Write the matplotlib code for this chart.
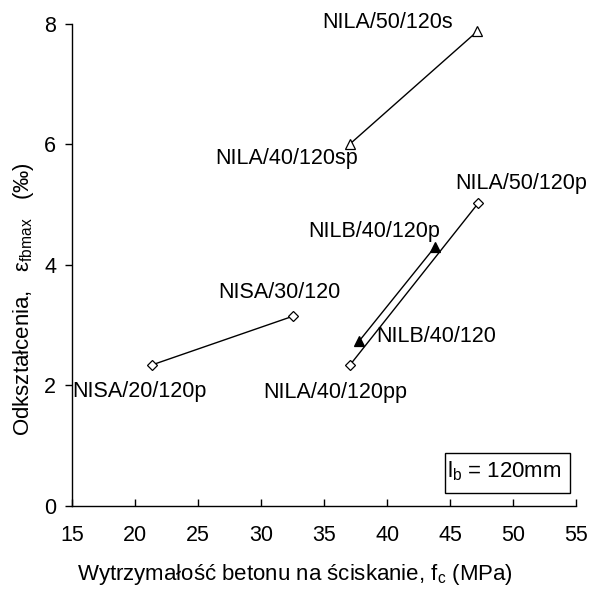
import matplotlib
matplotlib.use("Agg")
import matplotlib.pyplot as plt
from matplotlib.patches import Rectangle

plt.rcParams['font.family'] = ['Liberation Sans', 'DejaVu Sans']
plt.rcParams['mathtext.fontset'] = 'custom'
plt.rcParams['mathtext.rm'] = 'Liberation Sans'
plt.rcParams['mathtext.it'] = 'Liberation Sans:italic'

# Concrete compressive strength f_c (MPa) and max strain eps_fbmax (per mille)
nisa_fc = [21.35, 32.55]
nisa_eps = [2.34, 3.15]
nisa_names = ["NISA/20/120p", "NISA/30/120"]

nila_s_fc = [37.05, 47.15]
nila_s_eps = [6.01, 7.88]
nila_s_names = ["NILA/40/120sp", "NILA/50/120s"]

nila_p_fc = [37.05, 47.2]
nila_p_eps = [2.34, 5.02]
nila_p_names = ["NILA/40/120pp", "NILA/50/120p"]

nilb_fc = [37.75, 43.75]
nilb_eps = [2.73, 4.29]
nilb_names = ["NILB/40/120", "NILB/40/120p"]

x_ticks = [15, 20, 25, 30, 35, 40, 45, 50, 55]
y_ticks = [0, 2, 4, 6, 8]

fig = plt.figure(figsize=(5.97, 5.90), dpi=100)
ax = fig.add_axes([72.3 / 597, 84.3 / 590, 504 / 597, 481.7 / 590])

lw = 1.0
ax.plot(nisa_fc, nisa_eps, color='black', lw=lw, marker='D', ms=5.2,
        mfc='white', mec='black', mew=0.9)
ax.plot(nila_s_fc, nila_s_eps, color='black', lw=lw, marker='^', ms=7.5,
        mfc='white', mec='black', mew=0.9)
ax.plot(nila_p_fc, nila_p_eps, color='black', lw=lw, marker='D', ms=5.2,
        mfc='white', mec='black', mew=0.9)
ax.plot(nilb_fc, nilb_eps, color='black', lw=lw, marker='^', ms=7.5,
        mfc='black', mec='black', mew=0.9)

fs = 15.5


def label(name, x, y, dx, dy, ha):
    ax.annotate(name, xy=(x, y), xytext=(dx, dy), textcoords='offset pixels',
                ha=ha, va='baseline', fontsize=fs)


label(nisa_names[0], nisa_fc[0], nisa_eps[0], -79.6, -32.4, 'left')
label(nisa_names[1], nisa_fc[1], nisa_eps[1], -75.0, 17.6, 'left')
label(nila_s_names[0], nila_s_fc[0], nila_s_eps[0], 8.3, -20.3, 'right')
label(nila_s_names[1], nila_s_fc[1], nila_s_eps[1], -24.4, 3.3, 'right')
label(nila_p_names[0], nila_p_fc[0], nila_p_eps[0], 56.7, -33.4, 'right')
label(nila_p_names[1], nila_p_fc[1], nila_p_eps[1], -23.0, 14.7, 'left')
label(nilb_names[0], nilb_fc[0], nilb_eps[0], 17.7, -0.7, 'left')
label(nilb_names[1], nilb_fc[1], nilb_eps[1], 5.3, 10.0, 'right')

# Bond length box
ax.add_patch(Rectangle((0.7395, 0.027), 0.248, 0.082, transform=ax.transAxes,
                       fill=False, edgecolor='black', lw=1.0, clip_on=False))
ax.text(0.7435, 0.059, r'l$_{\mathrm{b}}$ = 120mm', transform=ax.transAxes,
        ha='left', va='baseline', fontsize=16)

ax.set_xlim(15, 55)
ax.set_ylim(0, 8)
ax.set_xticks(x_ticks)
ax.set_yticks(y_ticks)
ax.spines['top'].set_visible(False)
ax.spines['right'].set_visible(False)
ax.spines['left'].set_linewidth(1.0)
ax.spines['bottom'].set_linewidth(1.0)
ax.tick_params(axis='x', direction='in', length=5, width=1.0, pad=14, labelsize=fs)
ax.tick_params(axis='y', direction='out', length=5, width=1.0, pad=6.5, labelsize=fs)

ax.set_xlabel(r'Wytrzymałość betonu na ściskanie, f$_{\mathrm{c}}$ (MPa)',
              fontsize=16, va='baseline')
ax.xaxis.set_label_coords(0.441, -0.154)
ax.set_ylabel('Odkształcenia,   ε$_{\\mathrm{fbmax}}$   (‰)', fontsize=16)
ax.yaxis.set_label_coords(-0.072, 0.429)

fig.savefig('out.png', dpi=100)
